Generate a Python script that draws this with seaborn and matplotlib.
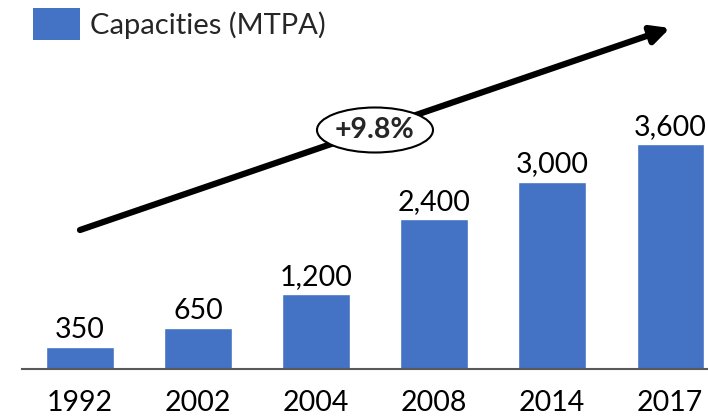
import matplotlib
matplotlib.use("Agg")
import matplotlib.pyplot as plt
import seaborn as sns
import pandas as pd
from matplotlib.patches import Ellipse, Patch

years = ["1992", "2002", "2004", "2008", "2014", "2017"]
capacities = [350, 650, 1200, 2400, 3000, 3600]
series_name = "Capacities (MTPA)"
cagr_label = "+9.8%"

sns.set_theme(style="white")
plt.rcParams["font.family"] = ["Lato", "DejaVu Sans"]

bar_color = "#4472C4"
df = pd.DataFrame({"Year": years, "Capacity": capacities})

fig = plt.figure(figsize=(7.08, 4.18), dpi=100)
ax = fig.add_axes([22 / 708, 49 / 418, 686 / 708, 369 / 418])
sns.barplot(data=df, x="Year", y="Capacity", color=bar_color, width=0.57,
            saturation=1, ax=ax)
ax.set_xlim(-0.49, 5.32)
ax.set_ylim(0, 5904)

ax.bar_label(ax.containers[0], labels=[f"{v:,}" for v in capacities],
             padding=3, fontsize=20.5, color="black")

for s in ["top", "left", "right"]:
    ax.spines[s].set_visible(False)
ax.spines["bottom"].set_color("#595959")
ax.spines["bottom"].set_linewidth(1.5)
ax.set_yticks([])
ax.set_xlabel("")
ax.set_ylabel("")
ax.tick_params(axis="x", length=0, pad=15, labelsize=20.5, labelcolor="black")

# legend
handle = Patch(facecolor=bar_color, edgecolor="none")
fig.legend([handle], [series_name], loc="upper left",
           bbox_to_anchor=(33 / 708, 1 - 8 / 418), frameon=False,
           fontsize=21, handlelength=1.6, handleheight=1.3,
           handletextpad=0.35, borderpad=0, borderaxespad=0)

# growth arrow
ax.annotate("", xy=(670 / 708, 1 - 28 / 418), xycoords="figure fraction",
            xytext=(80 / 708, 1 - 230 / 418), textcoords="figure fraction",
            arrowprops=dict(arrowstyle="-|>,head_length=0.9,head_width=0.45",
                            lw=4.5, color="black", shrinkA=0, shrinkB=0))
ell = Ellipse((375 / 708, 1 - 130 / 418), 116 / 708, 45 / 418,
              transform=fig.transFigure, facecolor="white", edgecolor="black",
              lw=1.5, zorder=5)
fig.add_artist(ell)
fig.text(375 / 708, 1 - 130 / 418, cagr_label, ha="center", va="center",
         fontsize=20.5, fontweight="bold", zorder=6)

fig.savefig("out.png", dpi=100)
